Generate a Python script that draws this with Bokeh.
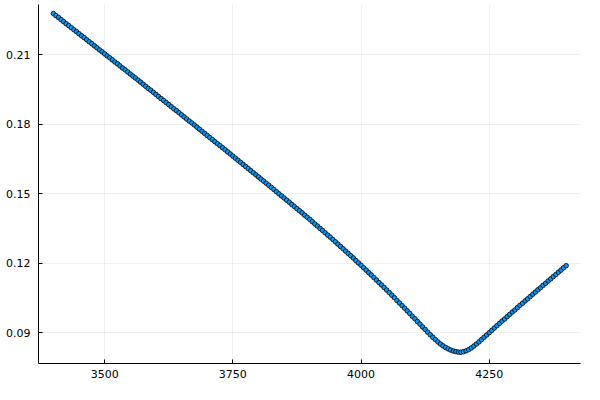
from bokeh.plotting import figure
from bokeh.models import FixedTicker, Range1d
from bokeh.embed import file_html
from bokeh.resources import INLINE

x_values = list(range(3400, 4401, 5))

y_values = [
    0.2277, 0.2268, 0.2260, 0.2251, 0.2242, 0.2233, 0.2225, 0.2216, 0.2207, 0.2199,
    0.2190, 0.2181, 0.2173, 0.2164, 0.2155, 0.2147, 0.2138, 0.2129, 0.2120, 0.2112,
    0.2103, 0.2094, 0.2086, 0.2077, 0.2068, 0.2060, 0.2051, 0.2042, 0.2034, 0.2025,
    0.2016, 0.2007, 0.1999, 0.1990, 0.1981, 0.1972, 0.1963, 0.1954, 0.1946, 0.1937,
    0.1928, 0.1919, 0.1910, 0.1902, 0.1893, 0.1884, 0.1875, 0.1866, 0.1858, 0.1849,
    0.1840, 0.1831, 0.1822, 0.1813, 0.1805, 0.1796, 0.1787, 0.1778, 0.1769, 0.1760,
    0.1751, 0.1742, 0.1733, 0.1724, 0.1715, 0.1707, 0.1698, 0.1689, 0.1680, 0.1671,
    0.1662, 0.1653, 0.1644, 0.1635, 0.1626, 0.1617, 0.1608, 0.1599, 0.1590, 0.1581,
    0.1572, 0.1563, 0.1554, 0.1545, 0.1536, 0.1527, 0.1518, 0.1508, 0.1499, 0.1490,
    0.1481, 0.1472, 0.1463, 0.1453, 0.1444, 0.1435, 0.1426, 0.1417, 0.1407, 0.1398,
    0.1389, 0.1379, 0.1369, 0.1360, 0.1350, 0.1341, 0.1331, 0.1321, 0.1312, 0.1302,
    0.1292, 0.1282, 0.1272, 0.1262, 0.1252, 0.1242, 0.1232, 0.1222, 0.1211, 0.1201,
    0.1191, 0.1180, 0.1170, 0.1159, 0.1149, 0.1138, 0.1127, 0.1116, 0.1106, 0.1095,
    0.1084, 0.1073, 0.1062, 0.1051, 0.1039, 0.1028, 0.1017, 0.1006, 0.0994, 0.0983,
    0.0971, 0.0960, 0.0948, 0.0937, 0.0925, 0.0914, 0.0902, 0.0891, 0.0880, 0.0870,
    0.0860, 0.0851, 0.0843, 0.0836, 0.0830, 0.0825, 0.0821, 0.0818, 0.0816, 0.0816,
    0.0818, 0.0822, 0.0827, 0.0834, 0.0842, 0.0851, 0.0860, 0.0870, 0.0880, 0.0890,
    0.0900, 0.0910, 0.0920, 0.0930, 0.0940, 0.0950, 0.0959, 0.0969, 0.0979, 0.0989,
    0.0998, 0.1008, 0.1018, 0.1027, 0.1037, 0.1046, 0.1056, 0.1066, 0.1075, 0.1085,
    0.1094, 0.1104, 0.1113, 0.1123, 0.1132, 0.1142, 0.1151, 0.1161, 0.1170, 0.1180,
    0.1189,
]
assert len(x_values) == len(y_values), (len(x_values), len(y_values))

x_ticks = [3500, 3750, 4000, 4250]
y_ticks = [0.09, 0.12, 0.15, 0.18, 0.21]
y_tick_labels = {0.09: "0.09", 0.12: "0.12", 0.15: "0.15", 0.18: "0.18", 0.21: "0.21"}

p = figure(width=584, height=384, output_backend="svg", toolbar_location=None,
           x_range=Range1d(3371, 4428), y_range=Range1d(0.0767, 0.2316))
p.min_border_left = 38
p.min_border_right = 4
p.min_border_top = 4
p.min_border_bottom = 21
p.outline_line_color = None
p.background_fill_color = "white"
p.border_fill_color = "white"

p.scatter(x_values, y_values, size=4.6, fill_color="#009AFA", line_color="black",
          line_width=0.8)

for ax in (p.xaxis[0], p.yaxis[0]):
    ax.axis_line_color = "black"
    ax.axis_line_width = 1
    ax.major_tick_in = 4
    ax.major_tick_out = 0
    ax.minor_tick_in = 0
    ax.minor_tick_out = 0
    ax.major_tick_line_color = "black"
    ax.major_label_text_font = "DejaVu Sans"
    ax.major_label_text_font_size = "11px"
    ax.major_label_text_color = "black"

p.xaxis[0].ticker = FixedTicker(ticks=x_ticks)
p.yaxis[0].ticker = FixedTicker(ticks=y_ticks)
p.yaxis[0].major_label_overrides = y_tick_labels
p.xaxis[0].major_label_standoff = 6
p.yaxis[0].major_label_standoff = 8

p.xgrid[0].ticker = FixedTicker(ticks=x_ticks)
p.ygrid[0].ticker = FixedTicker(ticks=y_ticks)
for g in (p.xgrid[0], p.ygrid[0]):
    g.grid_line_color = "black"
    g.grid_line_alpha = 0.1
    g.grid_line_width = 0.6

open("out.html", "w").write(file_html(p, INLINE))
